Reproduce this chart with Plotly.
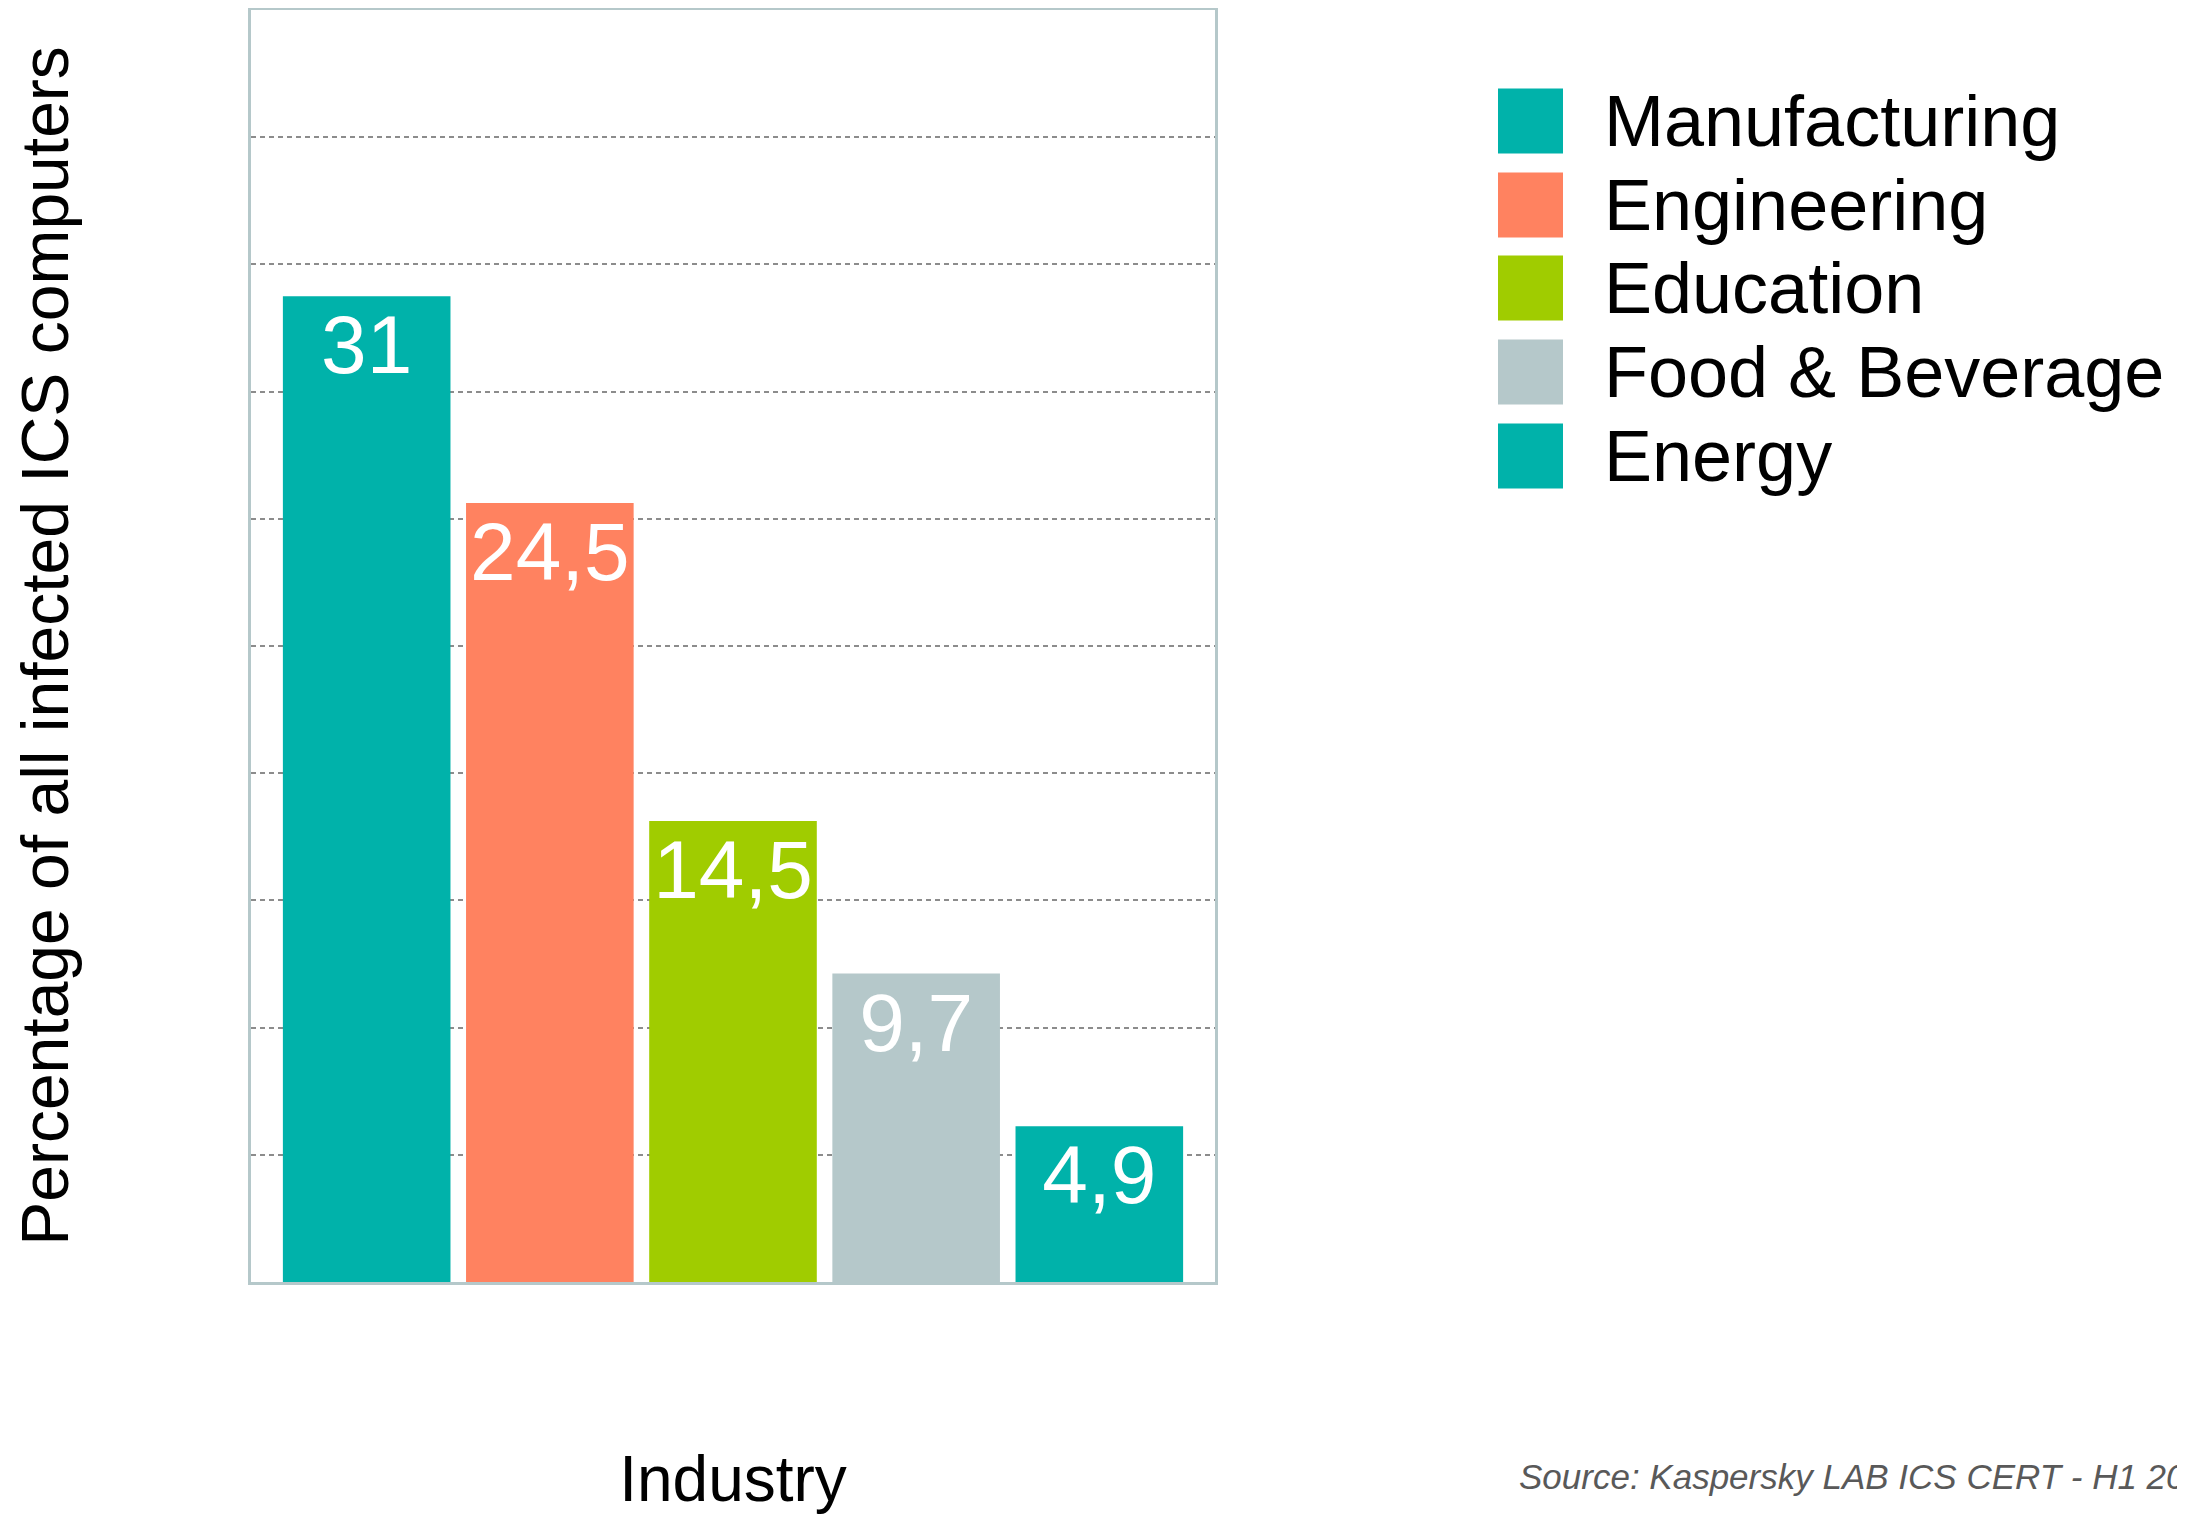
import plotly.graph_objects as go

industries = ["Manufacturing", "Engineering", "Education", "Food & Beverage", "Energy"]
values = [31, 24.5, 14.5, 9.7, 4.9]
value_labels = ["31", "24,5", "14,5", "9,7", "4,9"]
colors = ["#00B2AA", "#FF8260", "#A0CC00", "#B5C8CA", "#00B2AA"]
category = ["Industry"]

W, H = 2185, 1514
OFF = 8  # page body margin
L, R, T, B = 251 - OFF, 970 + OFF, 10 - OFF, 232 + OFF
pw, ph = W - L - R, H - T - B
plot_left_page = 251
plot_bottom_page = 1282


def px_x(xpage):
    return (xpage - plot_left_page) / pw


def px_y(ypage):
    return (plot_bottom_page - ypage) / ph


fig = go.Figure()
for name, v, lab, c in zip(industries, values, value_labels, colors):
    fig.add_trace(go.Bar(
        x=category, y=[v], name=name, text=[lab],
        marker=dict(color=c, line=dict(width=0)),
        textposition="inside", insidetextanchor="end", constraintext="none",
        textangle=0,
        textfont=dict(size=82, color="white", family="Arial, Liberation Sans"),
        showlegend=False,
    ))

# custom legend with large swatches
shapes = []
annotations = []
row_px = [121, 205, 288, 372, 456]
for i, (name, c) in enumerate(zip(industries, colors)):
    yc = px_y(row_px[i])
    half = 32.5 / ph
    shapes.append(dict(type="rect", xref="paper", yref="paper",
                       x0=px_x(1498), x1=px_x(1563),
                       y0=yc - half, y1=yc + half,
                       fillcolor=c, line=dict(width=0)))
    annotations.append(dict(xref="paper", yref="paper", x=px_x(1602), y=yc,
                            xanchor="left", yanchor="middle", showarrow=False,
                            text=name, font=dict(size=72, color="black",
                                                 family="Arial, Liberation Sans")))

annotations.append(dict(xref="paper", yref="paper", x=px_x(1517),
                        y=px_y(1477), xanchor="left", yanchor="middle",
                        showarrow=False, text="<i>Source: Kaspersky LAB ICS CERT - H1 2018</i>",
                        font=dict(size=35, color="#595959", family="Arial, Liberation Sans")))

fig.update_layout(
    width=W, height=H,
    margin=dict(l=L, r=R, t=T, b=B, autoexpand=False),
    paper_bgcolor="white", plot_bgcolor="white",
    barmode="group", bargap=0.05, bargroupgap=0.085,
    font=dict(family="Arial, Liberation Sans", color="black"),
    shapes=shapes, annotations=annotations,
    showlegend=False,
)
fig.update_xaxes(
    showticklabels=False, ticks="", showgrid=False,
    showline=True, linecolor="#B5C8CA", linewidth=3, mirror=True,
    title=dict(text="Industry", font=dict(size=64, color="black"), standoff=173),
    automargin=False,
)
fig.update_yaxes(
    range=[0, 40], dtick=4, showticklabels=False, ticks="",
    showgrid=True, gridcolor="#8C8C8C", gridwidth=2, griddash="5px,4px",
    zeroline=False,
    showline=True, linecolor="#B5C8CA", linewidth=3, mirror=True,
    title=dict(text="Percentage of all infected ICS computers",
               font=dict(size=66, color="black"), standoff=165),
    automargin=False,
)

fig.write_html("out.html")
